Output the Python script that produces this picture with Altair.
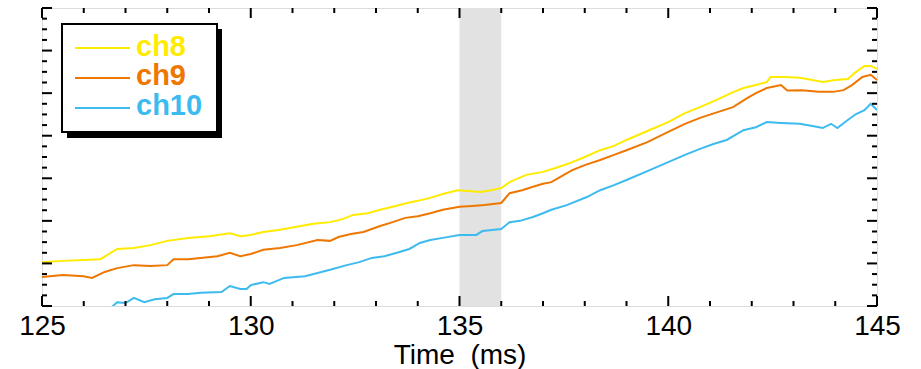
import altair as alt
import pandas as pd

# ---------------- data ----------------
ch8_t = [125.0, 125.5, 126.0, 126.4, 126.8, 127.2, 127.6, 128.0, 128.5, 129.0, 129.5, 129.75,
         130.0, 130.3, 130.7, 131.1, 131.5, 131.9, 132.2, 132.45, 132.8, 133.1, 133.4, 133.75,
         134.0, 134.3, 134.6, 134.95, 135.2, 135.5, 135.75, 136.0, 136.2, 136.6, 137.0, 137.3,
         137.6, 138.0, 138.37, 138.7, 139.0, 139.5, 140.0, 140.4, 140.76, 141.2, 141.5, 141.8,
         142.1, 142.36, 142.45, 142.8, 143.15, 143.45, 143.7, 144.0, 144.3, 144.5, 144.7, 144.85, 145.0]
ch8_v = [1.03, 1.06, 1.08, 1.10, 1.34, 1.36, 1.43, 1.53, 1.60, 1.64, 1.71, 1.64,
         1.67, 1.74, 1.79, 1.86, 1.93, 1.97, 2.04, 2.14, 2.18, 2.26, 2.33, 2.42,
         2.47, 2.54, 2.63, 2.72, 2.70, 2.68, 2.72, 2.77, 2.91, 3.08, 3.15, 3.24,
         3.34, 3.50, 3.66, 3.76, 3.90, 4.11, 4.32, 4.53, 4.67, 4.86, 5.00, 5.12,
         5.19, 5.26, 5.38, 5.38, 5.36, 5.31, 5.26, 5.31, 5.33, 5.50, 5.64, 5.64, 5.57]

ch9_t = [125.0, 125.5, 126.0, 126.2, 126.5, 126.8, 127.2, 127.6, 128.0, 128.15, 128.5, 128.8,
         129.2, 129.5, 129.75, 130.0, 130.3, 130.7, 131.1, 131.6, 131.9, 132.1, 132.4, 132.7,
         133.1, 133.4, 133.7, 134.0, 134.3, 134.6, 135.0, 135.3, 135.6, 136.0, 136.2, 136.5,
         136.76, 137.0, 137.2, 137.5, 137.7, 138.0, 138.37, 138.7, 139.0, 139.5, 140.0, 140.4,
         140.76, 141.2, 141.55, 141.9, 142.1, 142.36, 142.7, 142.85, 143.2, 143.6, 143.95, 144.2,
         144.4, 144.65, 144.85, 145.0]
ch9_v = [0.68, 0.73, 0.70, 0.66, 0.80, 0.89, 0.96, 0.94, 0.96, 1.10, 1.10, 1.13,
         1.17, 1.25, 1.17, 1.22, 1.32, 1.36, 1.43, 1.55, 1.53, 1.62, 1.69, 1.74,
         1.88, 1.97, 2.07, 2.11, 2.18, 2.26, 2.33, 2.35, 2.37, 2.42, 2.65, 2.72,
         2.80, 2.87, 2.91, 3.08, 3.19, 3.31, 3.43, 3.55, 3.66, 3.85, 4.09, 4.28,
         4.42, 4.56, 4.67, 4.89, 5.00, 5.12, 5.19, 5.06, 5.07, 5.03, 5.03, 5.07,
         5.19, 5.38, 5.43, 5.31]

ch10_t = [126.6, 126.7, 126.8, 127.0, 127.2, 127.45, 127.7, 128.0, 128.15, 128.5, 128.8, 129.3,
          129.5, 129.75, 129.9, 130.0, 130.3, 130.45, 130.8, 131.3, 131.9, 132.3, 132.6, 132.9,
          133.2, 133.5, 133.8, 134.05, 134.3, 134.6, 135.0, 135.4, 135.55, 136.0, 136.2, 136.45,
          136.76, 137.0, 137.2, 137.57, 138.05, 138.37, 138.7, 139.0, 139.5, 140.0, 140.4, 140.76,
          141.1, 141.4, 141.8, 142.1, 142.36, 142.7, 143.15, 143.45, 143.7, 143.9, 144.05, 144.3,
          144.5, 144.7, 144.85, 145.0]
ch10_v = [-0.09, 0.00, 0.09, 0.07, 0.19, 0.09, 0.16, 0.19, 0.28, 0.28, 0.31, 0.33,
          0.47, 0.40, 0.40, 0.49, 0.56, 0.52, 0.66, 0.70, 0.85, 0.96, 1.03, 1.13,
          1.17, 1.25, 1.34, 1.48, 1.55, 1.60, 1.67, 1.67, 1.76, 1.81, 1.97, 2.00,
          2.09, 2.18, 2.26, 2.37, 2.56, 2.72, 2.84, 2.96, 3.17, 3.38, 3.55, 3.69,
          3.81, 3.90, 4.13, 4.20, 4.32, 4.30, 4.28, 4.23, 4.18, 4.28, 4.18, 4.37,
          4.51, 4.60, 4.75, 4.60]

series_names = ["ch8", "ch9", "ch10"]
series_colors = ["#FFEB00", "#EE7700", "#3DBBEE"]

band_start = [135.0]
band_end = [136.0]

x_label_values = [125, 130, 135, 140, 145]
x_minor_ticks = [v for v in range(125, 146) if v % 5 != 0]
y_major_ticks = [0, 1, 2, 3, 4, 5, 6, 7]
y_minor_ticks = [i * 0.25 for i in range(0, 29) if i % 4 != 0]

# ---------------- build tables ----------------
rows = []
for name, ts, vs in [("ch8", ch8_t, ch8_v), ("ch9", ch9_t, ch9_v), ("ch10", ch10_t, ch10_v)]:
    for i, (t, v) in enumerate(zip(ts, vs)):
        rows.append({"series": name, "t": t, "v": v, "order": i})
lines_df = pd.DataFrame(rows)

W, H = 835, 298
xscale = alt.Scale(domain=[125, 145], nice=False, zero=False)
yscale = alt.Scale(domain=[0, 7], nice=False, zero=False)

x_axis = alt.Axis(values=x_label_values, ticks=False, domain=False, grid=False,
                  labelFontSize=28, labelFont="Liberation Sans", labelColor="black",
                  labelPadding=6, title="Time\u00a0 (ms)", titleFont="Liberation Sans",
                  titleFontSize=28, titleFontWeight="normal", titleColor="black",
                  titlePadding=1, labelFlush=False)

def X(field):
    return alt.X(field, scale=xscale, axis=x_axis)

band = alt.Chart(pd.DataFrame({"a": band_start, "b": band_end})).mark_rect(
    color="#E1E2E1").encode(
    x=X("a:Q"), x2="b:Q",
    y=alt.value(0), y2=alt.value(H))

lines = alt.Chart(lines_df).mark_line(strokeWidth=2, clip=True).encode(
    x=X("t:Q"),
    y=alt.Y("v:Q", scale=yscale, axis=None),
    color=alt.Color("series:N", scale=alt.Scale(domain=series_names, range=series_colors), legend=None),
    order="order:Q")

def xticks(vals, length):
    d = pd.DataFrame({"t": vals})
    bottom = alt.Chart(d).mark_rule(color="black", strokeWidth=2).encode(
        x=X("t:Q"), y=alt.value(H), y2=alt.value(H - length))
    top = alt.Chart(d).mark_rule(color="black", strokeWidth=2).encode(
        x=X("t:Q"), y=alt.value(0), y2=alt.value(length))
    return [bottom, top]

def yticks(vals, length):
    d = pd.DataFrame({"v": vals})
    left = alt.Chart(d).mark_rule(color="black", strokeWidth=2).encode(
        y=alt.Y("v:Q", scale=yscale, axis=None), x=alt.value(0), x2=alt.value(length))
    right = alt.Chart(d).mark_rule(color="black", strokeWidth=2).encode(
        y=alt.Y("v:Q", scale=yscale, axis=None), x=alt.value(W), x2=alt.value(W - length))
    return [left, right]

tick_layers = xticks(x_label_values, 10) + xticks(x_minor_ticks, 5) + \
    yticks(y_major_ticks, 10) + yticks(y_minor_ticks, 5)

one = pd.DataFrame({"k": [0]})
shadow = alt.Chart(one).mark_rect(color="black").encode(
    x=alt.value(25), x2=alt.value(180), y=alt.value(21), y2=alt.value(130))
box = alt.Chart(one).mark_rect(fill="white", stroke="black", strokeWidth=2).encode(
    x=alt.value(20), x2=alt.value(175), y=alt.value(16), y2=alt.value(124))

legend_layers = []
line_ys = [40, 70, 100]
text_ys = [48, 77, 107]
for name, col, ly, ty in zip(series_names, series_colors, line_ys, text_ys):
    legend_layers.append(alt.Chart(one).mark_rule(color=col, strokeWidth=2).encode(
        x=alt.value(33), x2=alt.value(88), y=alt.value(ly)))
    legend_layers.append(alt.Chart(one).mark_text(
        text=name, color=col, font="Liberation Sans", fontSize=29, fontWeight="bold",
        align="left", baseline="alphabetic").encode(x=alt.value(94), y=alt.value(ty)))

chart = alt.layer(band, lines, *tick_layers, shadow, box, *legend_layers).properties(
    width=W, height=H,
    autosize=alt.AutoSizeParams(type="none"),
    padding={"left": 42, "top": 8, "right": 44, "bottom": 63},
).configure_view(stroke="black", strokeWidth=2).configure(background="white")

chart.save("out.html", embed_options={"renderer": "svg", "actions": False})
